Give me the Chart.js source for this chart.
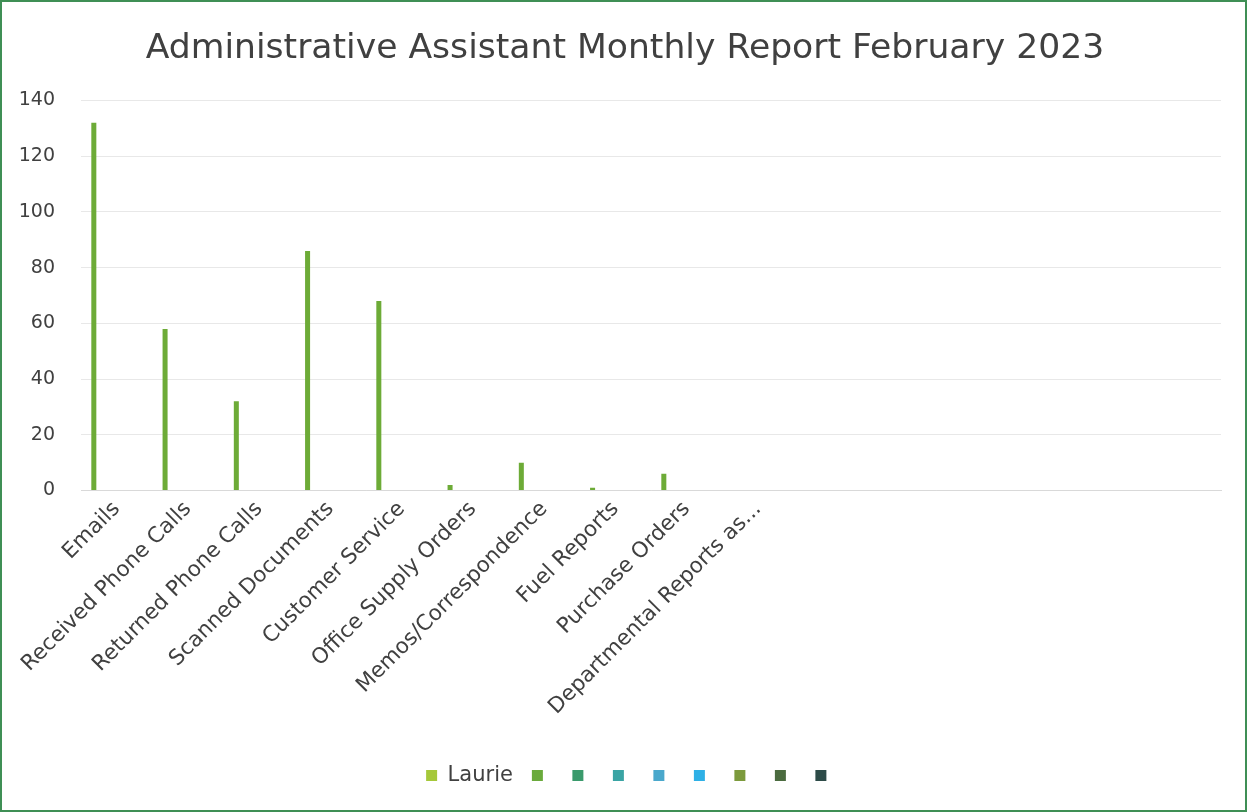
<!DOCTYPE html>
<html>
<head>
<meta charset="utf-8">
<title>Administrative Assistant Monthly Report February 2023</title>
<script src="https://cdn.jsdelivr.net/npm/chart.js@4/dist/chart.umd.min.js"></script>
<style>
  html, body { margin: 0; padding: 0; background: #fff; }
  #frame {
    position: relative;
    width: 1247px;
    height: 812px;
    box-sizing: border-box;
    border: 2px solid #3f8f55;
    background: #fff;
  }
  #frame canvas { position: absolute; left: 0; top: 0; }
</style>
</head>
<body>
<div id="frame">
  <canvas id="reportChart" width="1243" height="808"></canvas>
</div>
<script>
  // task categories (the trailing blanks are unused rows in the sheet)
  const categories = [
    'Emails', 'Received Phone Calls', 'Returned Phone Calls', 'Scanned Documents',
    'Customer Service', 'Office Supply Orders', 'Memos/Correspondence', 'Fuel Reports',
    'Purchase Orders', 'Departmental Reports as...', '', '', '', '', '', ''
  ];

  // counts for February
  const laurieCounts = [132, 58, 32, 86, 68, 2, 10, 1, 6, 0, null, null, null, null, null, null];

  const seriesNames = ['Laurie', '', '', '', '', '', '', '', ''];
  const yTicks = [0, 20, 40, 60, 80, 100, 120, 140];

  const swatchColors = ['#a5c83a', '#6aaa3c', '#3a9a6c', '#3aa4a4', '#4aa8cc', '#2eb0e6', '#7c9a3c', '#4b6b3f', '#2d4b48'];
  const barColor = '#6dab37';
  const FONT = "'DejaVu Sans', sans-serif";

  const datasets = seriesNames.map((name, i) => ({
    label: name,
    data: i === 0 ? laurieCounts : [],
    backgroundColor: i === 0 ? barColor : swatchColors[i],
    borderWidth: 0,
    categoryPercentage: 0.72,
    barPercentage: 0.88
  }));

  // title and legend sit centred on the whole sheet, not on the space left of the padding
  const recentre = {
    id: 'recentre',
    afterLayout(chart) {
      chart.titleBlock.left += 13.5;
      chart.titleBlock.right += 13.5;
      chart.legend.left += 20;
      chart.legend.right += 20;
    }
  };

  const ctx = document.getElementById('reportChart').getContext('2d');

  new Chart(ctx, {
    type: 'bar',
    data: {
      labels: categories,
      datasets: datasets
    },
    plugins: [recentre],
    options: {
      responsive: false,
      animation: false,
      layout: {
        padding: { left: 0, right: 24, top: 0, bottom: 14 }
      },
      scales: {
        x: {
          grid: { display: false, drawTicks: false },
          border: { display: true, color: '#d9d9d9', width: 1 },
          afterFit: axis => { axis.height += 20; },
          ticks: {
            autoSkip: false,
            minRotation: 45,
            maxRotation: 45,
            padding: 6,
            color: '#404040',
            font: { family: FONT, size: 21.5 }
          }
        },
        y: {
          min: 0,
          max: 140,
          afterBuildTicks: axis => { axis.ticks = yTicks.map(v => ({ value: v })); },
          afterFit: axis => { axis.width = 79; },
          grid: { color: '#e8e8e8', drawTicks: false },
          border: { display: false },
          ticks: {
            padding: 26,
            color: '#404040',
            font: { family: FONT, size: 19 }
          }
        }
      },
      plugins: {
        title: {
          display: true,
          text: 'Administrative Assistant Monthly Report February 2023',
          color: '#404040',
          font: { family: FONT, size: 34.6, weight: 'normal' },
          padding: { top: 26, bottom: 31 }
        },
        legend: {
          display: true,
          position: 'bottom',
          labels: {
            boxWidth: 11,
            boxHeight: 11,
            padding: 19,
            color: '#404040',
            font: { family: FONT, size: 21 },
            generateLabels: chart => {
              const items = Chart.defaults.plugins.legend.labels.generateLabels(chart);
              items.forEach((item, i) => {
                item.fillStyle = swatchColors[i];
                item.strokeStyle = swatchColors[i];
                item.lineWidth = 0;
              });
              return items;
            }
          }
        },
        tooltip: { enabled: false }
      }
    }
  });
</script>
</body>
</html>
